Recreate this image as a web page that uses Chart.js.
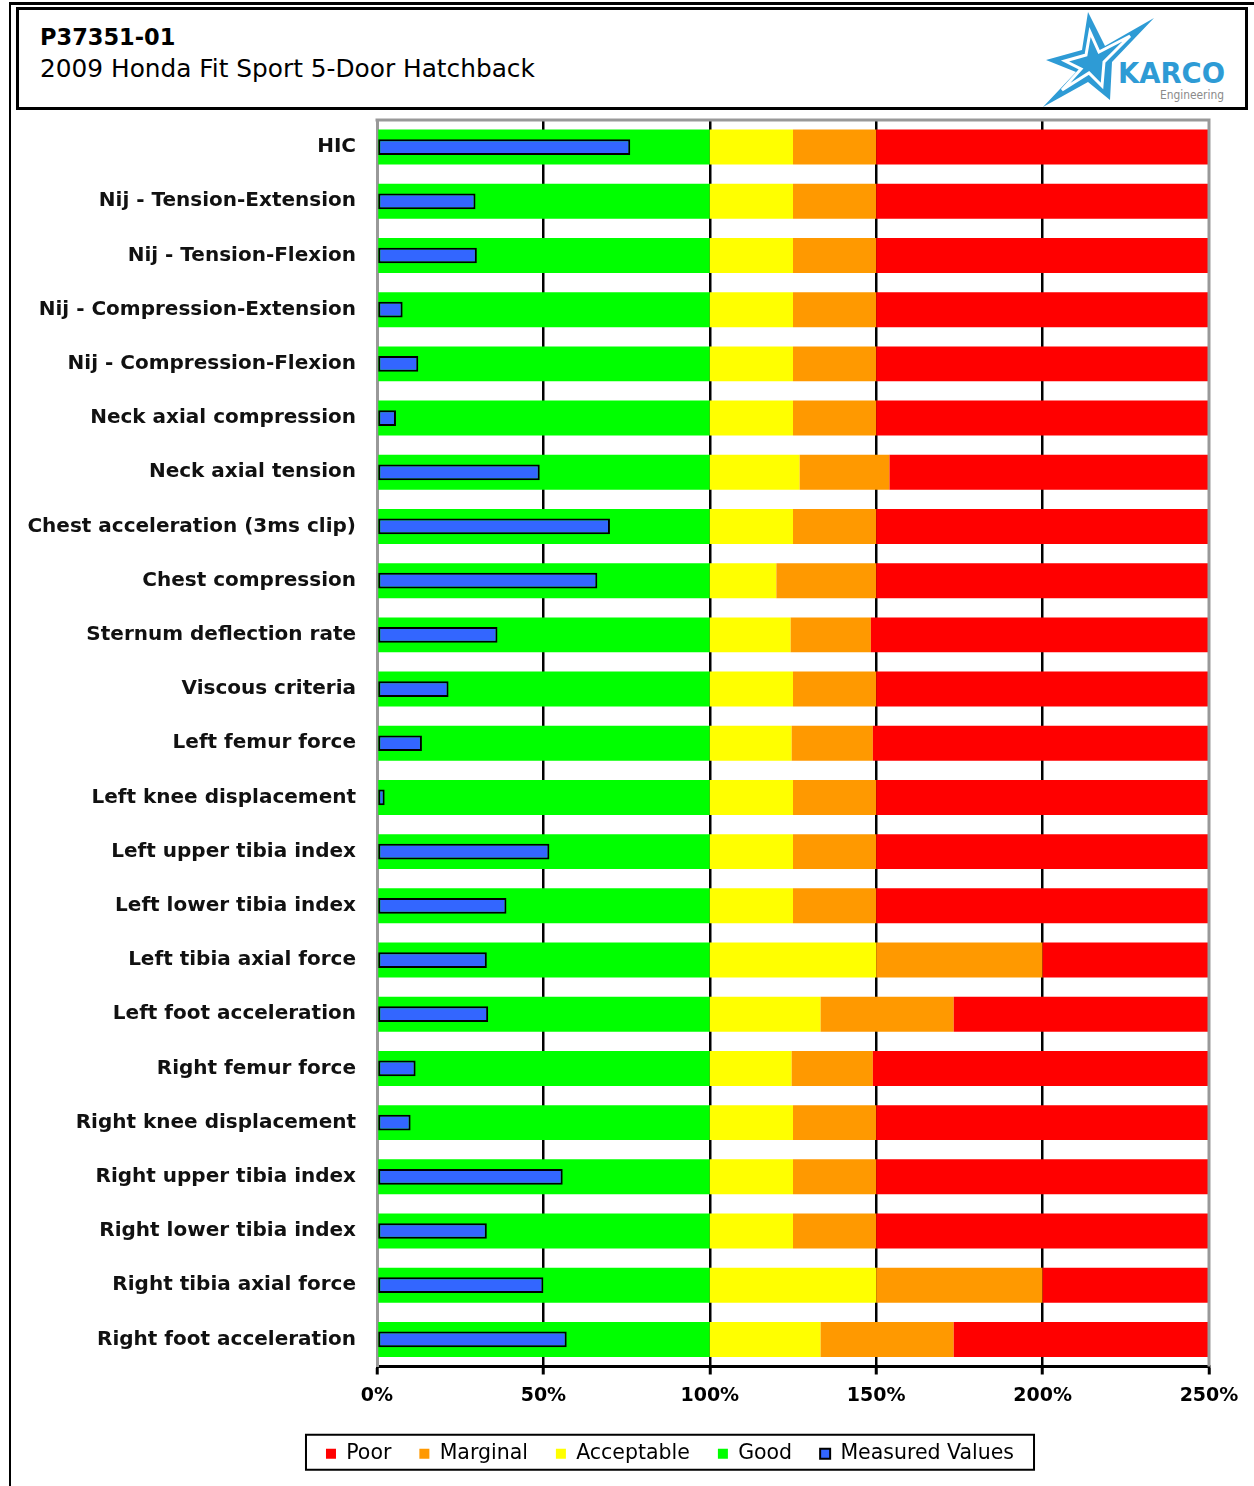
<!DOCTYPE html>
<html>
<head>
<meta charset="utf-8">
<script src="https://cdn.jsdelivr.net/npm/chart.js@4.4.1/dist/chart.umd.min.js"></script>
<style>
    body { margin: 0; background: #fff; width: 1254px; height: 1486px; overflow: hidden; position: relative; font-family: "DejaVu Sans", sans-serif; }
    #frame { position: absolute; left: 9px; top: 2px; width: 1260px; height: 1500px; border-left: 2px solid #000; border-top: 3px solid #000; }
    #header { position: absolute; left: 16px; top: 7px; width: 1226px; height: 97px; border: 3px solid #000; }
    #code { position: absolute; left: 40px; top: 24px; font-size: 22.5px; font-weight: bold; color: #000; }
    #model { position: absolute; left: 40px; top: 54px; font-size: 24.8px; color: #000; }
    #logo { position: absolute; left: 1040px; top: 10px; }
    #wrap { position: absolute; left: 12px; top: 95px; width: 1238px; height: 1379px; }
</style>
</head>
<body>
<div id="frame"></div>
<div id="header"></div>
<div id="code">P37351-01</div>
<div id="model">2009 Honda Fit Sport 5-Door Hatchback</div>
<svg id="logo" width="200" height="100" viewBox="0 0 200 100">
    <polygon points="48,2 65,36 114,8 72,52 70,90 48,72 3,97 36,62 6,50 42,40" fill="#2E9BD5"/>
    <polygon points="50,22 59,42 90,26 64,52 62,76 49,63 22,80 41,59 25,51 46,45" fill="none" stroke="#fff" stroke-width="3"/>
    <text x="78" y="73" font-family="DejaVu Sans" font-weight="bold" font-size="28" fill="#2E9BD5" textLength="107" lengthAdjust="spacingAndGlyphs">KARCO</text>
    <text x="120" y="89" font-family="DejaVu Sans" font-size="12" fill="#8a8a8a" textLength="64" lengthAdjust="spacingAndGlyphs">Engineering</text>
</svg>
<div id="wrap"><canvas id="myChart"></canvas></div>

<script>
// categorias de lesion
const categories = [
    'HIC',
    'Nij - Tension-Extension',
    'Nij - Tension-Flexion',
    'Nij - Compression-Extension',
    'Nij - Compression-Flexion',
    'Neck axial compression',
    'Neck axial tension',
    'Chest acceleration (3ms clip)',
    'Chest compression',
    'Sternum deflection rate',
    'Viscous criteria',
    'Left femur force',
    'Left knee displacement',
    'Left upper tibia index',
    'Left lower tibia index',
    'Left tibia axial force',
    'Left foot acceleration',
    'Right femur force',
    'Right knee displacement',
    'Right upper tibia index',
    'Right lower tibia index',
    'Right tibia axial force',
    'Right foot acceleration'
];

// valores medidos (% del limite)
const measured = [76.1, 29.6, 30.0, 7.7, 12.4, 5.7, 48.9, 70.0, 66.2, 36.2, 21.5, 13.5, 2.3,
    51.8, 38.9, 33.0, 33.4, 11.6, 10.1, 55.8, 33.0, 50.0, 57.0];

// limites de cada rango (%)
const goodLimit = 100;
const acceptableLimit = [125, 125, 125, 125, 125, 125, 127, 125, 120, 124.3, 125, 124.6, 125,
    125, 125, 150, 133.3, 124.6, 125, 125, 125, 150, 133.3];
const marginalLimit = [150, 150, 150, 150, 150, 150, 154, 150, 150, 148.4, 150, 149, 150,
    150, 150, 200, 173.3, 149, 150, 150, 150, 200, 173.3];
const axisMax = 250;
const tickStep = 50;

const legendPad = 28;
const rangeBar = { barPercentage: 0.645, categoryPercentage: 1, borderWidth: 0 };

// mueve la leyenda y dibuja su marco
const legendFrame = {
    id: 'legendFrame',
    afterUpdate(chart) {
        const lg = chart.legend;
        const d = 658 - (lg.left + lg.right) / 2;
        lg.left += d;
        lg.right += d;
    },
    afterDraw(chart) {
        const lg = chart.legend;
        if (!lg || !lg.lineWidths) return;
        const cx = (lg.left + lg.right) / 2;
        const w = lg.lineWidths[0] - legendPad;
        const cy = lg.top + lg.height / 2 + 7;
        const c = chart.ctx;
        c.save();
        c.strokeStyle = '#000';
        c.lineWidth = 2;
        c.strokeRect(cx - w / 2 - 20, cy - 17, w + 40, 35);
        c.restore();
    }
};

// borde gris arriba y a la derecha
const plotFrame = {
    id: 'plotFrame',
    afterDatasetsDraw(chart) {
        const a = chart.chartArea;
        const c = chart.ctx;
        c.save();
        c.strokeStyle = '#999';
        c.lineWidth = 3;
        c.beginPath();
        c.moveTo(a.left - 1.5, a.top);
        c.lineTo(a.right, a.top);
        c.lineTo(a.right, a.bottom);
        c.stroke();
        c.restore();
    }
};

const ctx = document.getElementById('myChart').getContext('2d');
const chart = new Chart(ctx, {
    type: 'bar',
    data: {
        labels: categories,
        datasets: [
            { label: 'Poor', data: marginalLimit.map(v => [v, axisMax]), backgroundColor: '#FF0000', ...rangeBar },
            { label: 'Marginal', data: acceptableLimit.map((v, i) => [v, marginalLimit[i]]), backgroundColor: '#FF9900', ...rangeBar },
            { label: 'Acceptable', data: acceptableLimit.map(v => [goodLimit, v]), backgroundColor: '#FFFF00', ...rangeBar },
            { label: 'Good', data: categories.map(() => [0, goodLimit]), backgroundColor: '#00FF00', ...rangeBar },
            {
                label: 'Measured Values',
                data: measured,
                backgroundColor: '#3366FF',
                borderColor: '#000',
                borderWidth: 2,
                borderSkipped: false,
                barPercentage: 0.29,
                categoryPercentage: 1,
                order: -1
            }
        ]
    },
    options: {
        indexAxis: 'y',
        responsive: true,
        maintainAspectRatio: false,
        animation: false,
        grouped: false,
        layout: { padding: { top: 8, right: 41, left: 0, bottom: 0 } },
        scales: {
            x: {
                min: 0,
                max: axisMax,
                ticks: {
                    stepSize: tickStep,
                    callback: value => value + '%',
                    font: { family: 'DejaVu Sans', size: 19, weight: 'bold' },
                    color: '#000',
                    padding: 10,
                    maxRotation: 0
                },
                grid: {
                    color: c => (c.tick && (c.tick.value === 0 || c.tick.value === axisMax)) ? 'rgba(0,0,0,0)' : '#000',
                    lineWidth: 2.5,
                    tickColor: '#000',
                    tickLength: 8,
                    tickWidth: 3
                },
                border: { color: '#000', width: 3 },
                afterFit: scale => { scale.height = 49; }
            },
            y: {
                ticks: {
                    font: { family: 'DejaVu Sans', size: 20, weight: 'bold' },
                    color: '#111',
                    padding: 13
                },
                grid: { display: false },
                border: { color: '#999', width: 3 },
                afterFit: scale => { scale.width = 365; }
            }
        },
        plugins: {
            legend: {
                position: 'bottom',
                labels: {
                    boxWidth: 10,
                    boxHeight: 10,
                    padding: legendPad,
                    color: '#000',
                    font: { family: 'DejaVu Sans', size: 20.5 },
                    sort: (a, b) => a.datasetIndex - b.datasetIndex
                }
            },
            tooltip: { enabled: false }
        }
    },
    plugins: [legendFrame, plotFrame]
});
</script>
</body>
</html>
